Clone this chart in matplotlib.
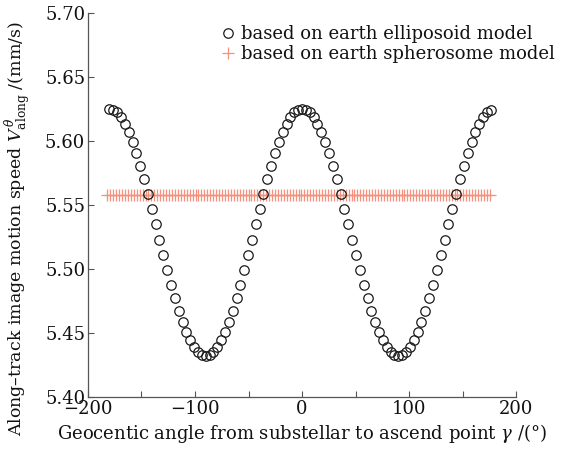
import matplotlib
matplotlib.use("Agg")
import matplotlib.pyplot as plt
from matplotlib.ticker import MultipleLocator

plt.rcParams['font.family'] = ['DejaVu Serif']
plt.rcParams['mathtext.fontset'] = 'dejavuserif'

# Geocentric angle samples (deg) for the ellipsoid model (step ~3.6 deg)
ellipsoid_angle = [
    -180.0, -176.4, -172.8, -169.2, -165.6, -162.0, -158.4, -154.8, -151.2, -147.6,
    -144.0, -140.4, -136.8, -133.2, -129.6, -126.0, -122.4, -118.8, -115.2, -111.6,
    -108.0, -104.4, -100.8, -97.2, -93.6, -90.0, -86.4, -82.8, -79.2, -75.6,
    -72.0, -68.4, -64.8, -61.2, -57.6, -54.0, -50.4, -46.8, -43.2, -39.6,
    -36.0, -32.4, -28.8, -25.2, -21.6, -18.0, -14.4, -10.8, -7.2, -3.6,
    0.0, 3.6, 7.2, 10.8, 14.4, 18.0, 21.6, 25.2, 28.8, 32.4,
    36.0, 39.6, 43.2, 46.8, 50.4, 54.0, 57.6, 61.2, 64.8, 68.4,
    72.0, 75.6, 79.2, 82.8, 86.4, 90.0, 93.6, 97.2, 100.8, 104.4,
    108.0, 111.6, 115.2, 118.8, 122.4, 126.0, 129.6, 133.2, 136.8, 140.4,
    144.0, 147.6, 151.2, 154.8, 158.4, 162.0, 165.6, 169.2, 172.8, 176.4,
]
# Along-track image motion speed (mm/s)
ellipsoid_speed = [
    5.6255, 5.6247, 5.6225, 5.6187, 5.6136, 5.6071, 5.5993, 5.5905, 5.5807, 5.5701,
    5.5588, 5.5471, 5.5351, 5.5229, 5.5109, 5.4992, 5.4879, 5.4773, 5.4675, 5.4587,
    5.4509, 5.4444, 5.4393, 5.4355, 5.4333, 5.4325, 5.4333, 5.4355, 5.4393, 5.4444,
    5.4509, 5.4587, 5.4675, 5.4773, 5.4879, 5.4992, 5.5109, 5.5229, 5.5351, 5.5471,
    5.5588, 5.5701, 5.5807, 5.5905, 5.5993, 5.6071, 5.6136, 5.6187, 5.6225, 5.6247,
    5.6255, 5.6247, 5.6225, 5.6187, 5.6136, 5.6071, 5.5993, 5.5905, 5.5807, 5.5701,
    5.5588, 5.5471, 5.5351, 5.5229, 5.5109, 5.4992, 5.4879, 5.4773, 5.4675, 5.4587,
    5.4509, 5.4444, 5.4393, 5.4355, 5.4333, 5.4325, 5.4333, 5.4355, 5.4393, 5.4444,
    5.4509, 5.4587, 5.4675, 5.4773, 5.4879, 5.4992, 5.5109, 5.5229, 5.5351, 5.5471,
    5.5588, 5.5701, 5.5807, 5.5905, 5.5993, 5.6071, 5.6136, 5.6187, 5.6225, 5.6247,
]

# Geocentric angle samples (deg) for the spherosome model (step ~2.75 deg)
sphere_angle = [
    -182.0, -179.25, -176.5, -173.75, -171.0, -168.25, -165.5, -162.75, -160.0, -157.25,
    -154.5, -151.75, -149.0, -146.25, -143.5, -140.75, -138.0, -135.25, -132.5, -129.75,
    -127.0, -124.25, -121.5, -118.75, -116.0, -113.25, -110.5, -107.75, -105.0, -102.25,
    -99.5, -96.75, -94.0, -91.25, -88.5, -85.75, -83.0, -80.25, -77.5, -74.75,
    -72.0, -69.25, -66.5, -63.75, -61.0, -58.25, -55.5, -52.75, -50.0, -47.25,
    -44.5, -41.75, -39.0, -36.25, -33.5, -30.75, -28.0, -25.25, -22.5, -19.75,
    -17.0, -14.25, -11.5, -8.75, -6.0, -3.25, -0.5, 2.25, 5.0, 7.75,
    10.5, 13.25, 16.0, 18.75, 21.5, 24.25, 27.0, 29.75, 32.5, 35.25,
    38.0, 40.75, 43.5, 46.25, 49.0, 51.75, 54.5, 57.25, 60.0, 62.75,
    65.5, 68.25, 71.0, 73.75, 76.5, 79.25, 82.0, 84.75, 87.5, 90.25,
    93.0, 95.75, 98.5, 101.25, 104.0, 106.75, 109.5, 112.25, 115.0, 117.75,
    120.5, 123.25, 126.0, 128.75, 131.5, 134.25, 137.0, 139.75, 142.5, 145.25,
    148.0, 150.75, 153.5, 156.25, 159.0, 161.75, 164.5, 167.25, 170.0, 172.75,
    175.5,
]
sphere_speed_value = 5.558  # constant speed
sphere_speed = [sphere_speed_value for _ in sphere_angle]

x_ticks = [-200, -100, 0, 100, 200]
y_ticks = [5.40, 5.45, 5.50, 5.55, 5.60, 5.65, 5.70]

fig = plt.figure(figsize=(5.64, 4.57), dpi=100)
ax = fig.add_axes([0.156, 0.131, 0.759, 0.840])

ax.plot(ellipsoid_angle, ellipsoid_speed, linestyle='none', marker='o',
        markersize=6.8, markerfacecolor='none', markeredgecolor='#1a1a1a',
        markeredgewidth=0.9, label='based on earth elliposoid model', zorder=3)
ax.plot(sphere_angle, sphere_speed, linestyle='none', marker='+',
        markersize=8, markeredgecolor='#f4907c', markeredgewidth=0.9,
        label='based on earth spherosome model', zorder=2)

ax.set_xlim(-200, 200)
ax.set_ylim(5.40, 5.70)
ax.set_xticks(x_ticks)
ax.xaxis.set_minor_locator(MultipleLocator(50))
ax.set_yticks(y_ticks)
ax.set_yticklabels([f"{v:.2f}" for v in y_ticks])

for s in ['top', 'right']:
    ax.spines[s].set_visible(False)
for s in ['left', 'bottom']:
    ax.spines[s].set_color('#555555')
    ax.spines[s].set_linewidth(0.9)

ax.tick_params(which='both', direction='in', length=4, width=0.8,
               color='#555555', labelsize=13, labelcolor='#111111', pad=2)

ax.set_xlabel(r"Geocentic angle from substellar to ascend point $\gamma$ /(°)",
              fontsize=13, color='#111111', labelpad=3)
ax.set_ylabel(r"Along–track image motion speed $V^{\,\theta}_{\mathrm{along}}$ /(mm/s)",
              fontsize=12.5, color='#111111')
ax.yaxis.set_label_coords(-0.128, 0.44)

leg = fig.legend(loc='upper right', bbox_to_anchor=(1.0, 0.965), frameon=False,
                 fontsize=13, handlelength=0.8, handletextpad=0.3,
                 labelspacing=0.1, borderaxespad=0.1)
for t in leg.get_texts():
    t.set_color('#111111')

fig.savefig('out.png', dpi=100)
